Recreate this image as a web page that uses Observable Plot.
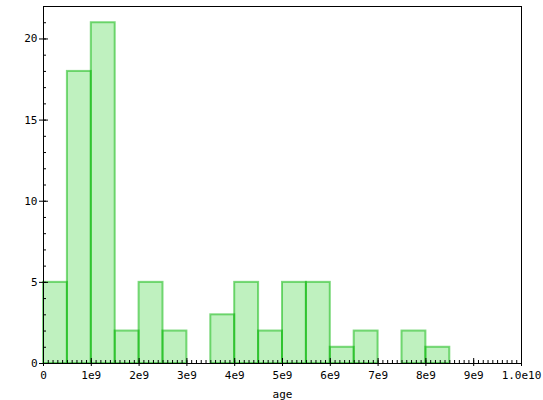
<!DOCTYPE html>
<html>
<head>
<meta charset="utf-8">
<script src="https://cdn.jsdelivr.net/npm/d3@7"></script>
<script src="https://cdn.jsdelivr.net/npm/@observablehq/plot@0.6"></script>
<style>
  html, body { margin: 0; padding: 0; background: #fff; }
  svg { display: block; }
</style>
</head>
<body>
<div id="chart"></div>
<script>
const binWidth = 0.5e9;
const binStarts = [0, 0.5e9, 1e9, 1.5e9, 2e9, 2.5e9, 3e9, 3.5e9, 4e9, 4.5e9,
                   5e9, 5.5e9, 6e9, 6.5e9, 7e9, 7.5e9, 8e9, 8.5e9, 9e9, 9.5e9];
const counts = [5, 18, 21, 2, 5, 2, 0, 3, 5, 2, 5, 5, 1, 2, 0, 2, 1, 0, 0, 0];
const xTicks = [0, 1e9, 2e9, 3e9, 4e9, 5e9, 6e9, 7e9, 8e9, 9e9, 1e10];
const xTickLabels = ["0", "1e9", "2e9", "3e9", "4e9", "5e9", "6e9", "7e9", "8e9", "9e9", "1.0e10"];
const xMinorTicks = d3.range(0, 1e10 + 1, 1e8);
const yTicks = [0, 5, 10, 15, 20];
const yMinorTicks = d3.range(0, 23, 1);

const bins = binStarts
  .map((x1, i) => ({x1, x2: x1 + binWidth, count: counts[i]}))
  .filter(d => d.count > 0);

const font = "'DejaVu Sans Mono', monospace";
const labelOf = new Map(xTicks.map((t, i) => [t, xTickLabels[i]]));

const chart = Plot.plot({
  width: 543,
  height: 400,
  marginLeft: 43,
  marginRight: 22,
  marginTop: 6,
  marginBottom: 37,
  style: {fontFamily: font, fontSize: "11px", color: "#000", background: "#fff"},
  x: {domain: [0, 1e10]},
  y: {domain: [0, 22]},
  marks: [
    Plot.rectY(bins, {
      x1: "x1", x2: "x2", y: "count",
      fill: "rgb(0,200,0)", fillOpacity: 0.25,
      stroke: "rgb(0,180,0)", strokeOpacity: 0.5, strokeWidth: 2
    }),
    Plot.frame({stroke: "#000", strokeWidth: 1}),
    Plot.axisX({ticks: xMinorTicks, tickSize: -3, tickFormat: () => "", stroke: "#000", label: null}),
    Plot.axisX({ticks: xTicks, tickSize: -5, tickFormat: () => "", stroke: "#000", label: null}),
    Plot.axisX({ticks: xTicks, tickSize: 3, tickPadding: 5, tickFormat: d => labelOf.get(d),
                stroke: "#000", fill: "#000", fontSize: 11, label: null}),
    Plot.axisY({ticks: yMinorTicks, tickSize: -3, tickFormat: () => "", stroke: "#000", label: null}),
    Plot.axisY({ticks: yTicks, tickSize: -5, tickFormat: () => "", stroke: "#000", label: null}),
    Plot.axisY({ticks: yTicks, tickSize: 4, tickPadding: 2, tickFormat: d => String(d),
                stroke: "#000", fill: "#000", fontSize: 11, label: null}),
    Plot.text(["age"], {frameAnchor: "bottom", dy: 34, fill: "#000", fontSize: 11, lineAnchor: "bottom"})
  ]
});
document.getElementById("chart").appendChild(chart);
</script>
</body>
</html>
